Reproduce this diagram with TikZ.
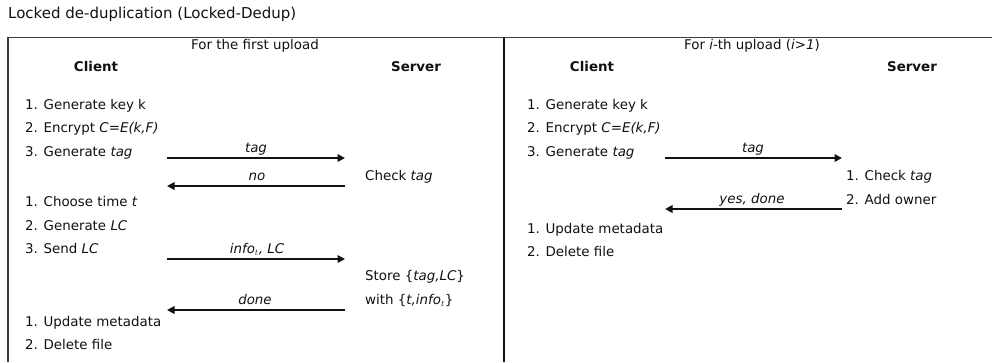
\documentclass[tikz,border=0pt]{standalone}
\usepackage{fontspec}
\setmainfont{DejaVu Sans}
\usetikzlibrary{arrows.meta}
\definecolor{ink}{HTML}{111111}
\definecolor{frame}{HTML}{3C3C3C}
\tikzset{
  txt/.style={anchor=west, inner sep=0pt, text=ink, font=\fontsize{13.4}{16}\selectfont, text height=1.45ex, text depth=0.3ex},
  ctxt/.style={txt, anchor=center},
  head/.style={ctxt, font=\fontsize{13.4}{16}\selectfont\bfseries},
  msg/.style={draw=ink, line width=1.8pt, -{Triangle[length=7.5pt,width=7.5pt]}},
}
\begin{document}
\begin{tikzpicture}[x=1pt,y=-1pt]
\useasboundingbox (0,0) rectangle (992,362);
% frame
\draw[frame, line width=1.4pt] (8,362) -- (8,37.5) -- (992,37.5);
\draw[ink, line width=1.8pt] (504,37.5) -- (504,362);
% title
\node[txt, font=\fontsize{15}{18}\selectfont] (title) at (8,15) {Locked de-duplication (Locked-Dedup)};
% ---- left panel
\node[ctxt] (h1) at (255,46) {For the first upload};
\node[head] (c1) at (96,68) {Client};
\node[head] (s1) at (416,68) {Server};
\node[txt] (l1) at (25,106) {1. Generate key k};
\node[txt] (l2) at (25,129) {2. Encrypt \textit{C=E(k,F)}};
\node[txt] (l3) at (25,153) {3. Generate \textit{tag}};
\node[txt] (l4) at (25,203) {1. Choose time \textit{t}};
\node[txt] (l5) at (25,227) {2. Generate \textit{LC}};
\node[txt] (l6) at (25,250) {3. Send \textit{LC}};
\node[txt] (l7) at (25,323) {1. Update metadata};
\node[txt] (l8) at (25,346) {2. Delete file};
\node[txt] (r1) at (365,177) {Check \textit{tag}};
\node[txt] (r2) at (365,277) {Store \{\textit{tag,LC}\}};
\node[txt] (r3) at (365,301) {with \{\textit{t,info$_t$}\}};
\coordinate (a1s) at (167,158); \coordinate (a1e) at (345,158);
\coordinate (a2s) at (345,186); \coordinate (a2e) at (167,186);
\coordinate (a3s) at (167,259); \coordinate (a3e) at (345,259);
\coordinate (a4s) at (345,310); \coordinate (a4e) at (167,310);
\draw[msg] (a1s) -- (a1e);
\draw[msg] (a2s) -- (a2e);
\draw[msg] (a3s) -- (a3e);
\draw[msg] (a4s) -- (a4e);
\node[ctxt] (m1) at (256,149) {\textit{tag}};
\node[ctxt] (m2) at (257,177) {\textit{no}};
\node[ctxt] (m3) at (257,250) {\textit{info$_t$, LC}};
\node[ctxt] (m4) at (255,301) {\textit{done}};
% ---- right panel
\node[ctxt] (h2) at (752,46) {For \textit{i}-th upload (\textit{i>1})};
\node[head] (c2) at (592,68) {Client};
\node[head] (s2) at (912,68) {Server};
\node[txt] (q1) at (527,106) {1. Generate key k};
\node[txt] (q2) at (527,129) {2. Encrypt \textit{C=E(k,F)}};
\node[txt] (q3) at (527,153) {3. Generate \textit{tag}};
\node[txt] (q4) at (527,230) {1. Update metadata};
\node[txt] (q5) at (527,253) {2. Delete file};
\node[txt] (p1) at (846,177) {1. Check \textit{tag}};
\node[txt] (p2) at (846,201) {2. Add owner};
\coordinate (b1s) at (665,158); \coordinate (b1e) at (842,158);
\coordinate (b2s) at (842,209); \coordinate (b2e) at (665,209);
\draw[msg] (b1s) -- (b1e);
\draw[msg] (b2s) -- (b2e);
\node[ctxt] (n1) at (753,149) {\textit{tag}};
\node[ctxt] (n2) at (752,200) {\textit{yes, done}};
\end{tikzpicture}
\end{document}
